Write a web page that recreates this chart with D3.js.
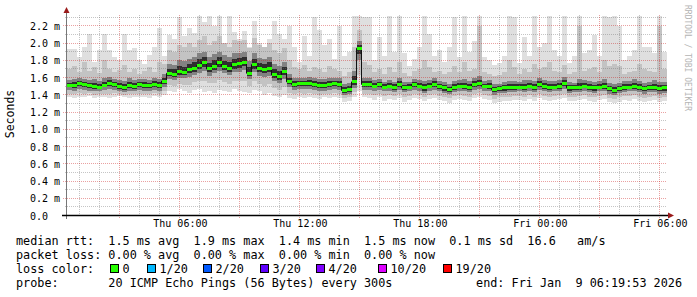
<!DOCTYPE html>
<html>
<head>
<meta charset="utf-8">
<script src="https://cdn.jsdelivr.net/npm/d3@7"></script>
<style>
  body { margin: 0; background: #fff; }
  svg text { font-family: "DejaVu Sans Mono", monospace; white-space: pre; }
</style>
</head>
<body>
<svg id="chart" width="697" height="297"></svg>
<script>
"use strict";
// smokeping 30h graph, one value per 15 minute bin (120 bins)
var median = [
  1.51,1.51,1.53,1.52,1.51,1.50,1.49,1.51,1.53,1.52,
  1.50,1.49,1.51,1.50,1.52,1.51,1.51,1.52,1.51,1.56,
  1.65,1.64,1.67,1.66,1.69,1.71,1.74,1.77,1.70,1.73,
  1.77,1.73,1.71,1.75,1.76,1.78,1.65,1.75,1.71,1.69,
  1.71,1.63,1.61,1.67,1.55,1.52,1.53,1.53,1.53,1.52,
  1.51,1.51,1.52,1.53,1.52,1.45,1.46,1.55,1.94,1.52,
  1.52,1.50,1.52,1.49,1.50,1.49,1.52,1.48,1.49,1.52,
  1.50,1.48,1.50,1.52,1.50,1.48,1.46,1.49,1.50,1.50,
  1.49,1.52,1.53,1.50,1.50,1.46,1.47,1.48,1.48,1.49,
  1.49,1.49,1.50,1.49,1.52,1.50,1.49,1.49,1.50,1.53,
  1.48,1.48,1.49,1.50,1.49,1.48,1.49,1.50,1.47,1.45,
  1.47,1.49,1.49,1.50,1.49,1.47,1.48,1.49,1.47,1.48
];
var smokeLo = [
  1.37,1.36,1.38,1.37,1.39,1.36,1.38,1.37,1.36,1.38,
  1.39,1.37,1.36,1.38,1.37,1.38,1.36,1.39,1.37,1.40,
  1.45,1.43,1.47,1.44,1.42,1.46,1.47,1.43,1.45,1.42,
  1.46,1.44,1.43,1.47,1.45,1.43,1.42,1.46,1.44,1.40,
  1.42,1.39,1.38,1.40,1.36,1.35,1.37,1.36,1.38,1.36,
  1.35,1.37,1.36,1.38,1.36,1.32,1.33,1.38,1.45,1.37,
  1.36,1.34,1.37,1.33,1.35,1.34,1.36,1.32,1.34,1.36,
  1.35,1.33,1.35,1.36,1.34,1.33,1.31,1.34,1.35,1.34,
  1.33,1.36,1.37,1.35,1.34,1.31,1.32,1.33,1.33,1.34,
  1.34,1.33,1.35,1.33,1.36,1.34,1.33,1.34,1.35,1.36,
  1.33,1.33,1.34,1.35,1.33,1.32,1.34,1.35,1.32,1.31,
  1.32,1.34,1.33,1.35,1.33,1.32,1.33,1.34,1.32,1.33
];
var darkLo = [
  1.46,1.45,1.47,1.46,1.45,1.44,1.44,1.46,1.47,1.46,
  1.44,1.43,1.45,1.44,1.46,1.45,1.45,1.46,1.45,1.49,
  1.58,1.57,1.59,1.59,1.61,1.63,1.65,1.68,1.62,1.65,
  1.68,1.65,1.63,1.66,1.67,1.69,1.58,1.66,1.62,1.61,
  1.62,1.56,1.54,1.58,1.49,1.46,1.47,1.47,1.47,1.46,
  1.45,1.45,1.46,1.47,1.46,1.40,1.41,1.48,1.80,1.46,
  1.46,1.45,1.46,1.44,1.45,1.43,1.46,1.43,1.44,1.46,
  1.45,1.42,1.45,1.46,1.44,1.42,1.41,1.43,1.45,1.44,
  1.43,1.46,1.47,1.45,1.44,1.40,1.42,1.42,1.43,1.43,
  1.44,1.43,1.45,1.43,1.46,1.44,1.43,1.44,1.44,1.47,
  1.42,1.43,1.43,1.45,1.43,1.42,1.44,1.44,1.41,1.40,
  1.42,1.43,1.44,1.44,1.43,1.41,1.43,1.43,1.41,1.42
];
var darkHi = [
  1.57,1.58,1.60,1.58,1.57,1.58,1.56,1.59,1.61,1.58,
  1.57,1.56,1.59,1.57,1.58,1.58,1.57,1.59,1.58,1.64,
  1.76,1.75,1.80,1.79,1.82,1.84,1.88,1.90,1.84,1.87,
  1.90,1.86,1.84,1.88,1.89,1.90,1.79,1.88,1.83,1.82,
  1.84,1.76,1.74,1.78,1.64,1.59,1.60,1.60,1.61,1.59,
  1.58,1.58,1.59,1.60,1.59,1.52,1.54,1.68,2.02,1.60,
  1.59,1.57,1.58,1.55,1.57,1.55,1.60,1.55,1.55,1.58,
  1.57,1.56,1.57,1.59,1.56,1.55,1.53,1.56,1.57,1.58,
  1.56,1.59,1.62,1.56,1.57,1.53,1.53,1.55,1.56,1.56,
  1.55,1.57,1.57,1.56,1.60,1.57,1.56,1.56,1.57,1.61,
  1.55,1.54,1.58,1.57,1.56,1.55,1.56,1.58,1.54,1.52,
  1.54,1.56,1.56,1.58,1.56,1.54,1.55,1.57,1.55,1.55
];
var smokeMid = [
  1.70,1.74,1.66,1.78,1.68,1.72,1.65,1.80,1.70,1.67,
  1.69,1.75,1.66,1.70,1.64,1.68,1.72,1.66,1.78,1.76,
  1.92,1.90,1.98,1.95,2.00,1.96,2.04,2.08,1.98,2.02,
  2.08,2.00,1.96,2.04,2.02,2.04,1.94,2.06,1.98,1.96,
  2.00,1.92,1.88,1.94,1.80,1.72,1.70,1.75,1.68,1.72,
  1.70,1.66,1.74,1.70,1.68,1.62,1.66,1.95,2.15,1.78,
  1.75,1.66,1.70,1.64,1.72,1.66,1.78,1.65,1.62,1.68,
  1.70,1.80,1.72,1.66,1.68,1.64,1.66,1.74,1.66,1.78,
  1.68,1.70,2.20,1.66,1.64,1.62,1.63,1.66,1.80,1.72,
  1.64,1.70,1.66,1.76,1.70,1.72,1.78,1.68,1.66,1.75,
  1.64,1.66,2.20,1.68,1.70,1.72,1.66,1.80,1.74,1.76,
  1.74,1.64,1.66,1.68,1.76,1.70,1.68,1.66,2.20,1.70
];
var smokeTop = [
  1.93,1.93,1.84,1.96,2.11,1.78,1.92,2.11,1.92,1.84,
  1.80,2.10,1.92,1.94,1.80,1.76,1.86,1.95,2.17,1.85,
  2.09,2.05,2.30,2.08,2.17,2.12,2.33,2.25,2.32,2.20,
  2.33,2.00,2.32,2.13,2.05,2.14,1.95,2.26,2.00,1.88,
  2.05,2.26,2.10,2.05,2.20,1.95,1.78,2.08,1.85,2.30,
  2.15,1.98,2.05,1.82,2.20,1.85,1.90,2.33,2.33,2.30,
  2.30,1.80,2.07,1.85,2.32,1.90,2.32,1.88,1.73,1.82,
  1.95,2.32,2.11,1.85,1.92,1.78,1.95,2.30,1.84,2.32,
  1.90,2.03,2.33,1.84,1.80,1.75,1.77,1.85,2.32,2.30,
  1.77,2.07,1.85,2.32,1.95,2.00,2.32,1.92,1.85,2.32,
  1.77,1.85,2.33,1.88,1.92,2.09,1.85,2.32,2.30,2.32,
  2.20,1.80,1.85,1.92,2.32,1.95,1.96,1.88,2.33,1.90
];

var yTicks = [0, 0.2, 0.4, 0.6, 0.8, 1.0, 1.2, 1.4, 1.6, 1.8, 2.0, 2.2];
var yTickLabels = ["0.0  ", "0.2 m", "0.4 m", "0.6 m", "0.8 m", "1.0 m", "1.2 m",
                   "1.4 m", "1.6 m", "1.8 m", "2.0 m", "2.2 m"];
var xTickTimes = ["2026-01-08T06:00:00", "2026-01-08T12:00:00", "2026-01-08T18:00:00",
                  "2026-01-09T00:00:00", "2026-01-09T06:00:00"];
var xTickLabels = ["Thu 06:00", "Thu 12:00", "Thu 18:00", "Fri 00:00", "Fri 06:00"];

var rttStats = ["1.5 ms avg", "1.9 ms max", "1.4 ms min", "1.5 ms now", "0.1 ms sd", "16.6   am/s"];
var lossStats = ["0.00 % avg", "0.00 % max", "0.00 % min", "0.00 % now"];
var lossLabels = ["0", "1/20", "2/20", "3/20", "4/20", "10/20", "19/20"];
var lossColors = ["#26ff00", "#00b8ff", "#0059ff", "#5e00ff", "#7e00ff", "#dd00ff", "#ff0000"];
var probeText = "20 ICMP Echo Pings (56 Bytes) every 300s";
var endText = "end: Fri Jan  9 06:19:53 2026";

var start = new Date("2026-01-08T00:19:53");
var end = new Date("2026-01-09T06:19:53");
var binMs = 15 * 60 * 1000;

var svg = d3.select( "#chart" );
var x = d3.scaleTime().domain( [ start, end ] ).range( [ 66.5, 666.5 ] );
var y = d3.scaleLinear().domain( [ 0, 2.32 ] ).range( [ 215.5, 15.5 ] ).clamp( true );

function edge( i ) {
  return x( new Date( start.getTime() + i * binMs ) );
}
function crisp( v ) {
  return Math.floor( v ) + 0.5;
}

// smoke
var smoke = svg.append( "g" ).attr( "shape-rendering", "crispEdges" );
function band( lo, hi, color ) {
  smoke.append( "g" ).selectAll( "rect" )
    .data( median )
    .join( "rect" )
    .attr( "x", function( d, i ) { return edge( i ); } )
    .attr( "width", function( d, i ) { return edge( i + 1 ) - edge( i ); } )
    .attr( "y", function( d, i ) { return y( hi( i ) ); } )
    .attr( "height", function( d, i ) { return Math.max( 0, y( lo( i ) ) - y( hi( i ) ) ); } )
    .attr( "fill", color );
}
band( function( i ) { return smokeLo[i]; }, function( i ) { return smokeTop[i]; }, "#dfdfdf" );
band( function( i ) { return ( smokeLo[i] + darkLo[i] ) / 2; }, function( i ) { return smokeMid[i]; }, "#c3c3c3" );
band( function( i ) { return darkLo[i]; }, function( i ) { return darkHi[i]; }, "#828282" );
band( function( i ) { return ( darkLo[i] + median[i] ) / 2; }, function( i ) { return ( darkHi[i] + median[i] ) / 2; }, "#2e2e2e" );

// grid on top of the data, like rrdtool
var grid = svg.append( "g" ).attr( "stroke-dasharray", "1,1" );
var minorY = d3.range( 1, 24, 2 ).map( function( k ) { return k / 10; } );
grid.selectAll( ".hmin" ).data( minorY ).join( "line" )
  .attr( "x1", 65 ).attr( "x2", 667 )
  .attr( "y1", function( d ) { return crisp( y( d ) ); } )
  .attr( "y2", function( d ) { return crisp( y( d ) ); } )
  .attr( "stroke", "rgba(110,110,110,0.4)" );
var hours = d3.timeHour.range( start, end ).filter( function( d ) { return d.getHours() % 3 !== 0; } );
grid.selectAll( ".vmin" ).data( hours ).join( "line" )
  .attr( "x1", function( d ) { return crisp( x( d ) ); } )
  .attr( "x2", function( d ) { return crisp( x( d ) ); } )
  .attr( "y1", 15 ).attr( "y2", 217 )
  .attr( "stroke", "rgba(110,110,110,0.4)" );
grid.selectAll( ".hmaj" ).data( yTicks.slice( 1 ) ).join( "line" )
  .attr( "x1", 63 ).attr( "x2", 667 )
  .attr( "y1", function( d ) { return crisp( y( d ) ); } )
  .attr( "y2", function( d ) { return crisp( y( d ) ); } )
  .attr( "stroke", "rgba(205,30,30,0.42)" );
var threeHours = d3.timeHour.every( 3 ).range( start, end );
grid.selectAll( ".vmaj" ).data( threeHours ).join( "line" )
  .attr( "x1", function( d ) { return crisp( x( d ) ); } )
  .attr( "x2", function( d ) { return crisp( x( d ) ); } )
  .attr( "y1", 15 ).attr( "y2", 219 )
  .attr( "stroke", "rgba(205,30,30,0.42)" );

// median: black step line with green loss-colour bars
var stepLine = d3.line()
  .x( function( d, i ) { return edge( i ); } )
  .y( function( d ) { return y( d ); } )
  .curve( d3.curveStepAfter );
svg.append( "path" )
  .attr( "d", stepLine( median.concat( [ median[median.length - 1] ] ) ) )
  .attr( "fill", "none" )
  .attr( "stroke", "#111" )
  .attr( "stroke-width", 1 );
svg.append( "g" ).attr( "shape-rendering", "crispEdges" )
  .selectAll( "rect" ).data( median ).join( "rect" )
  .attr( "x", function( d, i ) { return edge( i ); } )
  .attr( "width", function( d, i ) { return edge( i + 1 ) - edge( i ); } )
  .attr( "y", function( d ) { return y( d ) - 1.5; } )
  .attr( "height", 3 )
  .attr( "fill", lossColors[0] );

// axes lines + arrows
svg.append( "line" ).attr( "x1", 66.5 ).attr( "x2", 66.5 ).attr( "y1", 219 ).attr( "y2", 12 )
  .attr( "stroke", "#777" );
svg.append( "line" ).attr( "x1", 62 ).attr( "x2", 669 ).attr( "y1", 215.5 ).attr( "y2", 215.5 )
  .attr( "stroke", "#000" ).attr( "stroke-width", 1.3 );
svg.append( "path" ).attr( "d", "M63.5,13 L66.5,7 L69.5,13 Z" ).attr( "fill", "#9a1a1a" );
svg.append( "path" ).attr( "d", "M668,212.5 L674,215.5 L668,218.5 Z" ).attr( "fill", "#9a1a1a" );

// axis labels
var xAxis = d3.axisBottom( x )
  .tickValues( xTickTimes.map( function( s ) { return new Date( s ); } ) )
  .tickFormat( function( d, i ) { return xTickLabels[i]; } )
  .tickSize( 0 ).tickPadding( 0 );
var gx = svg.append( "g" ).attr( "transform", "translate(0,218)" ).call( xAxis );
var yAxis = d3.axisLeft( y )
  .tickValues( yTicks )
  .tickFormat( function( d, i ) { return yTickLabels[i]; } )
  .tickSize( 0 ).tickPadding( 0 );
var gy = svg.append( "g" ).attr( "transform", "translate(60,0)" ).call( yAxis );
[ gx, gy ].forEach( function( g ) {
  g.select( ".domain" ).remove();
  g.selectAll( "text" )
    .attr( "font-family", "DejaVu Sans Mono" )
    .attr( "font-size", 10 )
    .attr( "fill", "#000" );
} );
gx.selectAll( "text" ).attr( "dy", "0.71em" ).attr( "y", 2 );
gy.selectAll( "text" ).attr( "dy", "0.35em" );

svg.append( "text" )
  .attr( "transform", "translate(14,114) rotate(-90)" )
  .attr( "text-anchor", "middle" )
  .attr( "font-size", 11.5 )
  .text( "Seconds" );

svg.append( "text" )
  .attr( "transform", "translate(685,5) rotate(90)" )
  .attr( "font-size", 8 )
  .attr( "fill", "#b4b4b4" )
  .text( "RRDTOOL / TOBI OETIKER" );

// legend
var legend = svg.append( "g" ).attr( "font-size", 11.8 ).attr( "fill", "#000" );
legend.append( "text" ).attr( "x", 16 ).attr( "y", 245 )
  .text( "median rtt:  " + rttStats.join( "  " ) );
legend.append( "text" ).attr( "x", 16 ).attr( "y", 259 )
  .text( "packet loss: " + lossStats.join( "  " ) );
legend.append( "text" ).attr( "x", 16 ).attr( "y", 273 ).text( "loss color:" );
var boxX = [ 110, 147, 203, 260, 316, 378, 443 ];
var lossItems = legend.selectAll( ".loss" ).data( lossLabels ).join( "g" );
lossItems.append( "rect" )
  .attr( "x", function( d, i ) { return boxX[i] + 0.5; } )
  .attr( "y", 264.5 )
  .attr( "width", 8 ).attr( "height", 8 )
  .attr( "fill", function( d, i ) { return lossColors[i]; } )
  .attr( "stroke", "#000" );
lossItems.append( "text" )
  .attr( "x", function( d, i ) { return boxX[i] + 12.5; } )
  .attr( "y", 273 )
  .text( function( d ) { return d; } );
legend.append( "text" ).attr( "x", 16 ).attr( "y", 287 ).text( "probe:       " + probeText );
legend.append( "text" ).attr( "x", 682 ).attr( "y", 287 ).attr( "text-anchor", "end" ).text( endText );
</script>
</body>
</html>
